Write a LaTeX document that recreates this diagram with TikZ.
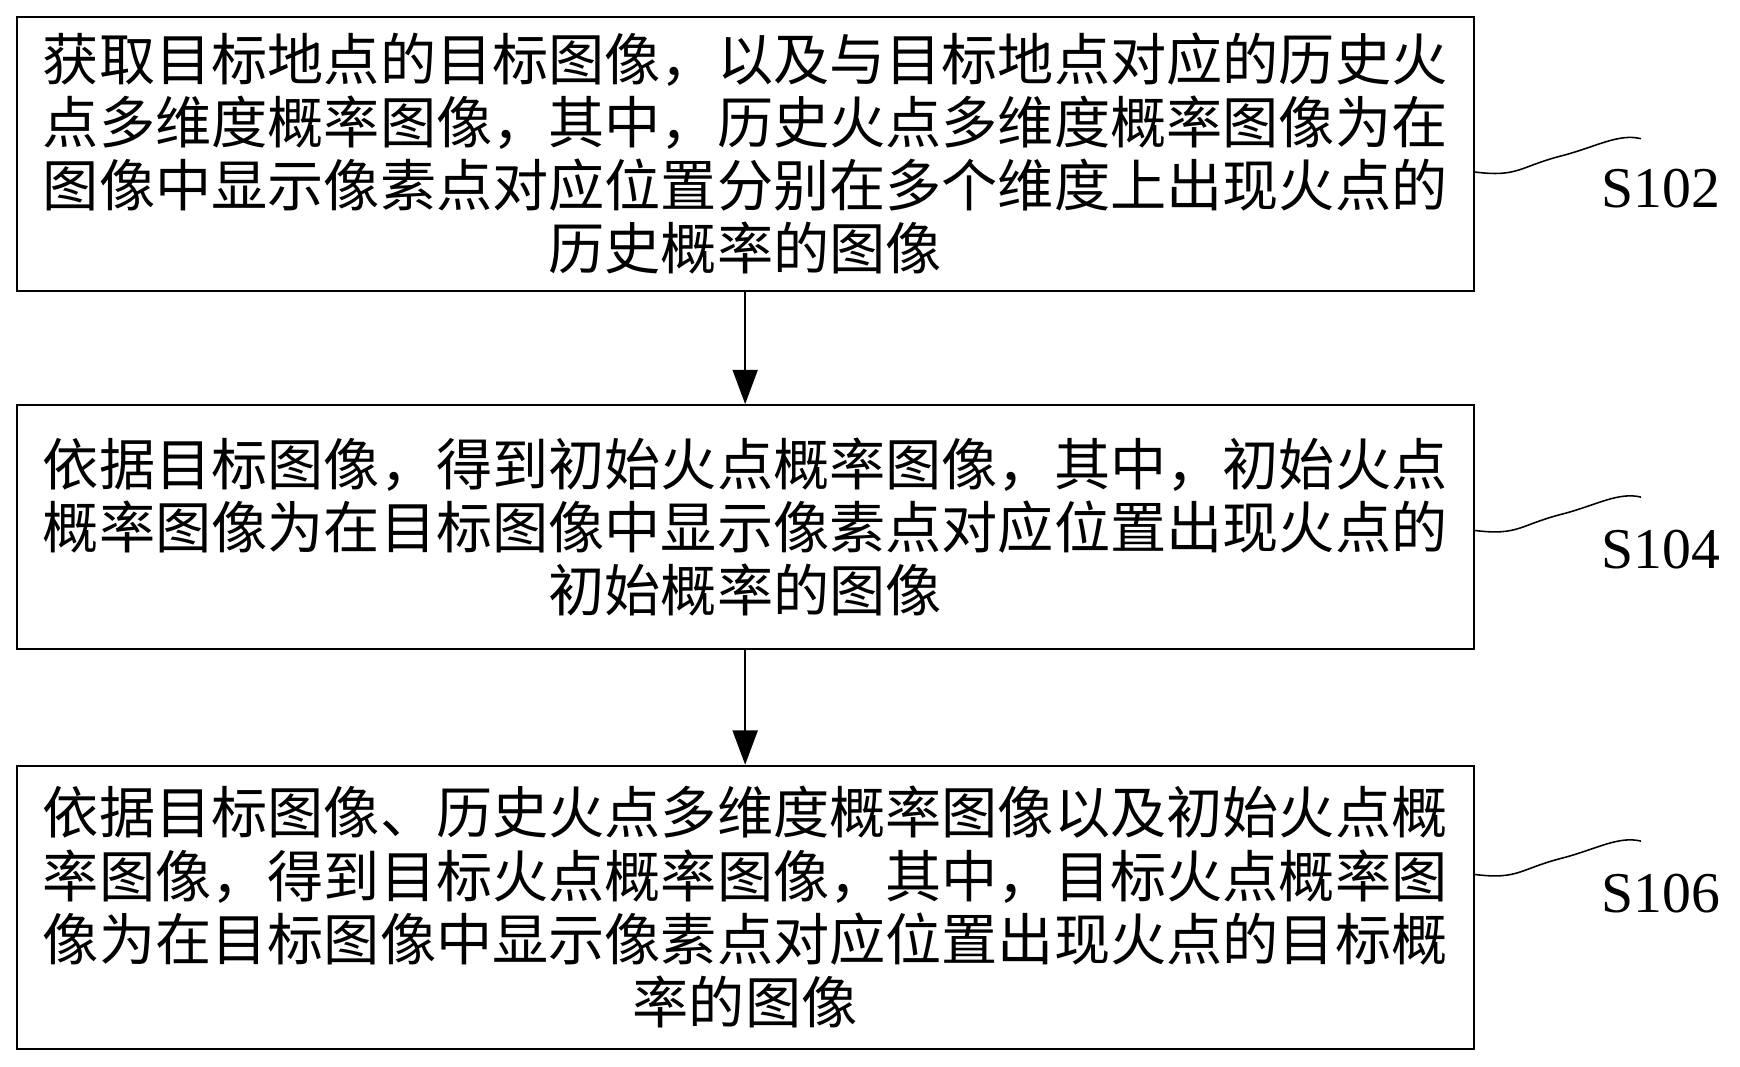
\documentclass[tikz,border=0pt]{standalone}
\usepackage{fontspec}
\usetikzlibrary{arrows.meta}
\setmainfont{Liberation Serif}
\newfontfamily\cjk{Noto Sans CJK SC}
\begin{document}
\begin{tikzpicture}[x=0.025cm,y=-0.025cm,
 box/.style={draw,line width=1.2pt,inner sep=0pt},
 txt/.style={align=center,font=\cjk\fontsize{36}{40.5}\selectfont},
 lab/.style={font=\fontsize{37}{40}\selectfont},
 arr/.style={-{Triangle[length=22pt,width=16pt]},line width=1.4pt},
 sq/.style={line width=1pt}]
\useasboundingbox (0,0) rectangle (1568,961);
\node[box,minimum width=1313*0.025cm,minimum height=247*0.025cm] (b1) at (671.5,138.5) {};
\node[txt] (t1) at (671.5,138.5) {获取目标地点的目标图像，以及与目标地点对应的历史火\\点多维度概率图像，其中，历史火点多维度概率图像为在\\图像中显示像素点对应位置分别在多个维度上出现火点的\\历史概率的图像};
\node[box,minimum width=1313*0.025cm,minimum height=220*0.025cm] (b2) at (671.5,475) {};
\node[txt] (t2) at (671.5,475) {依据目标图像，得到初始火点概率图像，其中，初始火点\\概率图像为在目标图像中显示像素点对应位置出现火点的\\初始概率的图像};
\node[box,minimum width=1313*0.025cm,minimum height=255*0.025cm] (b3) at (671.5,817.5) {};
\node[txt] (t3) at (671.5,817.5) {依据目标图像、历史火点多维度概率图像以及初始火点概\\率图像，得到目标火点概率图像，其中，目标火点概率图\\像为在目标图像中显示像素点对应位置出现火点的目标概\\率的图像};
\draw[arr] (b1.south) -- (b2.north);
\draw[arr] (b2.south) -- (b3.north);
\node[lab] (l1) at (1497,170) {S102};
\node[lab] (l2) at (1497,495) {S104};
\node[lab] (l3) at (1497,805) {S106};
\foreach \b/\y in {b1/155,b2/478,b3/788}{
 \draw[sq] (\b.east |- 0,\y) .. controls +(40,5) and +(-40,10) .. ++(80,-15) .. controls +(30,-8) and +(-20,-5) .. ++(70,-15);
}
\end{tikzpicture}
\end{document}
